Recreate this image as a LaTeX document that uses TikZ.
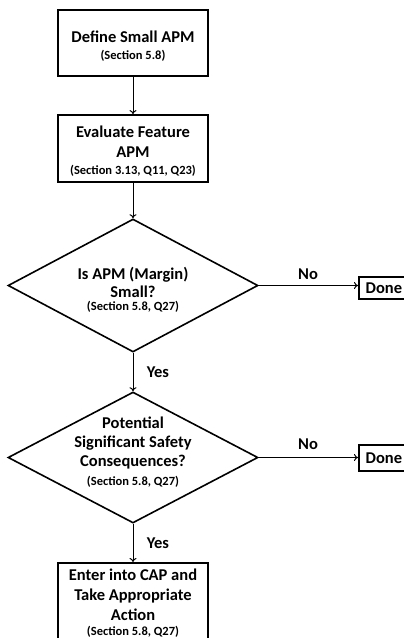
\documentclass[tikz,border=0pt]{standalone}
\usepackage{fontspec}
\setmainfont{Carlito}
\usetikzlibrary{shapes.geometric,arrows.meta}
\newcommand{\smt}[1]{{\fontsize{12.5}{14}\selectfont #1}}
\begin{document}
\begin{tikzpicture}[x=1pt,y=-1pt,
  box/.style={draw=black,line width=1.8pt,minimum width=150pt,inner sep=0pt},
  dec/.style={draw=black,line width=1.6pt,diamond,minimum width=250pt,inner sep=0pt},
  txt/.style={align=center,inner sep=0pt,font=\bfseries\fontsize{16.5}{20}\selectfont},
  done/.style={draw=black,line width=1.8pt,minimum width=50pt,minimum height=22pt,inner sep=0pt,anchor=west,font=\bfseries\fontsize{16.5}{18}\selectfont},
  conn/.style={draw=black,line width=1pt,-{To[length=4pt,width=7pt]}},
  lab/.style={font=\bfseries\fontsize{16.5}{18}\selectfont}]
\useasboundingbox (0,0) rectangle (404,638);
\clip (0,0) rectangle (404,638);
\node[box,minimum height=66pt] (b1) at (133,43) {};
\node[txt] (t1) at (133,46) {Define Small APM\\[-3pt]\smt{(Section 5.8)}};
\node[box,minimum height=67pt] (b2) at (133,148.5) {};
\node[txt] (t2) at (133,151) {Evaluate Feature\\APM\\[-3pt]\smt{(Section 3.13, Q11, Q23)}};
\node[dec,minimum height=133pt] (d1) at (133,285.5) {};
\node[txt] (t3) at (133,290) {Is APM (Margin)\\[-2pt]Small?\\[-7pt]\smt{(Section 5.8, Q27)}};
\node[dec,minimum height=131pt] (d2) at (133,457.5) {};
\node[txt] (t4) at (133,452.5) {Potential\\[-1pt]Significant Safety\\[-1pt]Consequences?\\[-1pt]\smt{(Section 5.8, Q27)}};
\node[done] (n1) at (358,288) {Done};
\node[done,minimum height=26pt] (n2) at (358,458) {Done};
\node[box,minimum height=90pt,anchor=north] (b3) at (133,562) {};
\node[txt,anchor=north] (t5) at (133,569) {Enter into CAP and\\Take Appropriate\\Action\\[-5pt]\smt{(Section 5.8, Q27)}};
\draw[conn] (b1.south) -- (b2.north);
\draw[conn] (b2.south) -- (d1.north);
\draw[conn] (d1.east) -- (n1.west |- d1.east);
\draw[conn] (d1.south) -- (d2.north);
\draw[conn] (d2.east) -- (n2.west |- d2.east);
\draw[conn] (d2.south) -- (b3.north);
\node[lab] (no1) at (308,274) {No};
\node[lab] (no2) at (308,444) {No};
\node[lab] (y1) at (158,372) {Yes};
\node[lab] (y2) at (158,543) {Yes};
\end{tikzpicture}
\end{document}
